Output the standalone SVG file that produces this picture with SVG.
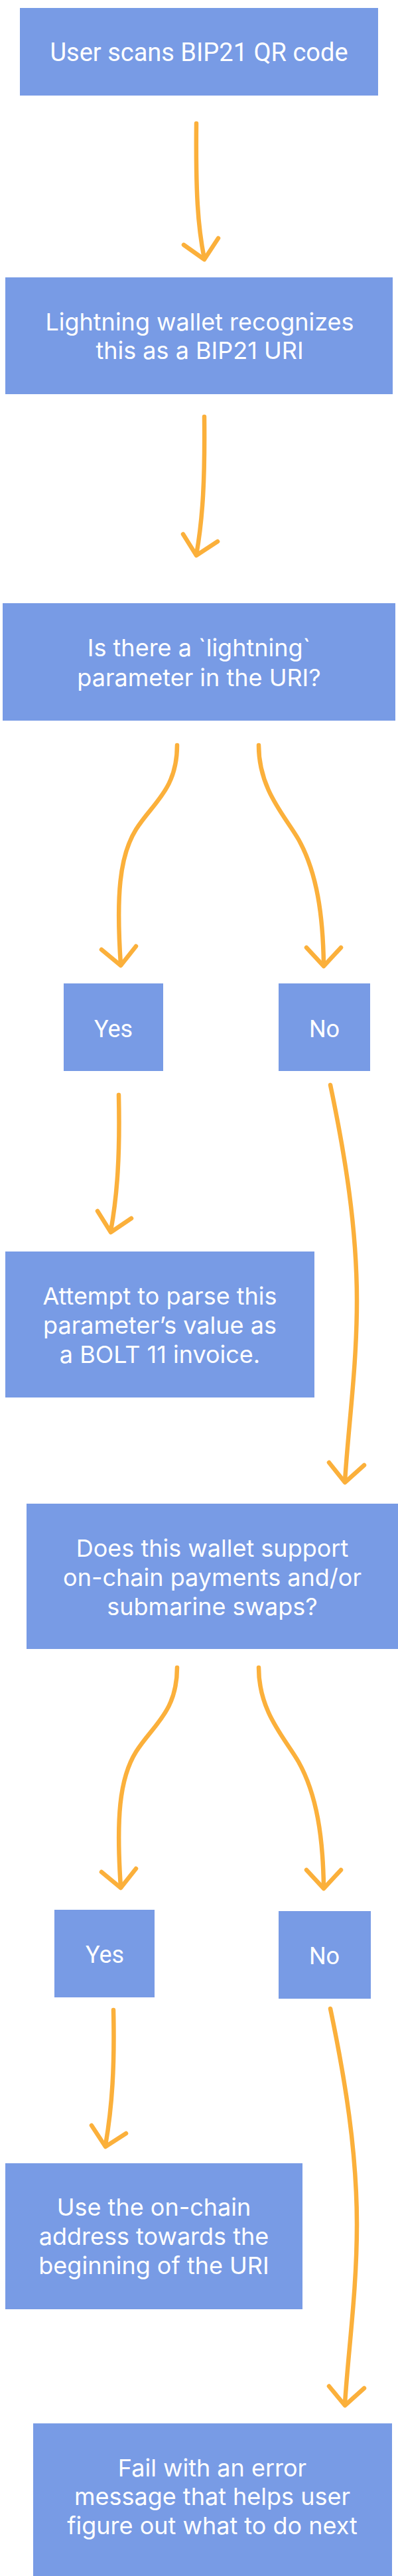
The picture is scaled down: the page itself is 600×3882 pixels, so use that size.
<svg xmlns="http://www.w3.org/2000/svg" width="600" height="3882" viewBox="0 0 600 3882">
<style>
.box{fill:#789BE5}
.t{fill:#FFFFFF;font-family:Inter,"Noto Sans",sans-serif;font-size:36px;text-anchor:middle}
.r{fill:#FFFFFF;font-family:Roboto,"Liberation Sans",sans-serif;font-size:38px;text-anchor:middle}
.yn{fill:#FFFFFF;font-family:Roboto,"Liberation Sans",sans-serif;font-size:36px;text-anchor:middle}
.c{fill:none;stroke:#FBB03B;stroke-width:6.5;stroke-linecap:round;stroke-linejoin:round}
</style>
<rect width="600" height="3882" fill="#FFFFFF"/>
<g id="connectors">
  <path class="c" d="M296,186 C295,290 298,340 308,390"/>
  <path class="c" d="M277,369 L308,391 L329,359"/>
  <path class="c" d="M308,628 C309,720 306,780 296,836"/>
  <path class="c" d="M276,805 L296,837 L328,816"/>
  <path class="c" d="M267,1123 C267,1190 230,1210 205,1250 C180,1290 175,1350 182,1454"/>
  <path class="c" d="M153,1431 L182,1455 L205,1426"/>
  <path class="c" d="M390,1123 C390,1190 430,1230 450,1265 C478,1315 487,1380 488,1454"/>
  <path class="c" d="M462,1428 L488,1456 L514,1428"/>
  <path class="c" d="M179,1650 C181,1740 177,1800 167,1855"/>
  <path class="c" d="M147,1825 L167,1857 L198,1836"/>
  <path class="c" d="M498,1635 C520,1740 538,1850 538,1960 C538,2060 525,2150 520,2232"/>
  <path class="c" d="M496,2204 L520,2234 L549,2208"/>
  <path class="c" d="M267,2513 C267,2580 230,2600 205,2640 C180,2680 175,2740 182,2844"/>
  <path class="c" d="M153,2821 L182,2845 L205,2816"/>
  <path class="c" d="M390,2513 C390,2580 430,2620 450,2655 C478,2705 487,2770 488,2844"/>
  <path class="c" d="M462,2818 L488,2846 L514,2818"/>
  <path class="c" d="M171,3029 C173,3115 169,3175 159,3233"/>
  <path class="c" d="M138,3203 L159,3235 L190,3215"/>
  <path class="c" d="M498,3027 C520,3132 538,3242 538,3352 C538,3452 525,3542 520,3622"/>
  <path class="c" d="M496,3596 L520,3625 L549,3599"/>
</g>
<g id="node-scan">
  <rect class="box" x="30" y="12" width="540" height="132"/>
  <text class="r" x="300" y="92">User scans BIP21 QR code</text>
</g>
<g id="node-recognize">
  <rect class="box" x="8" y="418" width="584" height="176"/>
  <text class="t" x="301" y="498">Lightning wallet recognizes</text>
  <text class="t" x="301" y="541">this as a BIP21 URI</text>
</g>
<g id="node-lightning-param">
  <rect class="box" x="4" y="909" width="592" height="177"/>
  <text class="t" x="300" y="989">Is there a `lightning`</text>
  <text class="t" x="300" y="1034">parameter in the URI?</text>
</g>
<g id="node-yes1">
  <rect class="box" x="96" y="1482" width="150" height="132"/>
  <text class="yn" x="171" y="1563">Yes</text>
</g>
<g id="node-no1">
  <rect class="box" x="420" y="1482" width="138" height="132"/>
  <text class="yn" x="489" y="1563">No</text>
</g>
<g id="node-parse">
  <rect class="box" x="8" y="1886" width="466" height="220"/>
  <text class="t" x="241" y="1966">Attempt to parse this</text>
  <text class="t" x="241" y="2010">parameter’s value as</text>
  <text class="t" x="241" y="2054">a BOLT 11 invoice.</text>
</g>
<g id="node-onchain-support">
  <rect class="box" x="40" y="2266" width="560" height="219"/>
  <text class="t" x="320" y="2346">Does this wallet support</text>
  <text class="t" x="320" y="2390">on-chain payments and/or</text>
  <text class="t" x="320" y="2434">submarine swaps?</text>
</g>
<g id="node-yes2">
  <rect class="box" x="82" y="2878" width="151" height="132"/>
  <text class="yn" x="158" y="2958">Yes</text>
</g>
<g id="node-no2">
  <rect class="box" x="420" y="2880" width="139" height="132"/>
  <text class="yn" x="489" y="2960">No</text>
</g>
<g id="node-use-onchain">
  <rect class="box" x="8" y="3260" width="448" height="220"/>
  <text class="t" x="232" y="3339">Use the on-chain</text>
  <text class="t" x="232" y="3383">address towards the</text>
  <text class="t" x="232" y="3427">beginning of the URI</text>
</g>
<g id="node-fail">
  <rect class="box" x="50" y="3652" width="541" height="230"/>
  <text class="t" x="320" y="3732">Fail with an error</text>
  <text class="t" x="320" y="3775">message that helps user</text>
  <text class="t" x="320" y="3819">figure out what to do next</text>
</g>
</svg>
